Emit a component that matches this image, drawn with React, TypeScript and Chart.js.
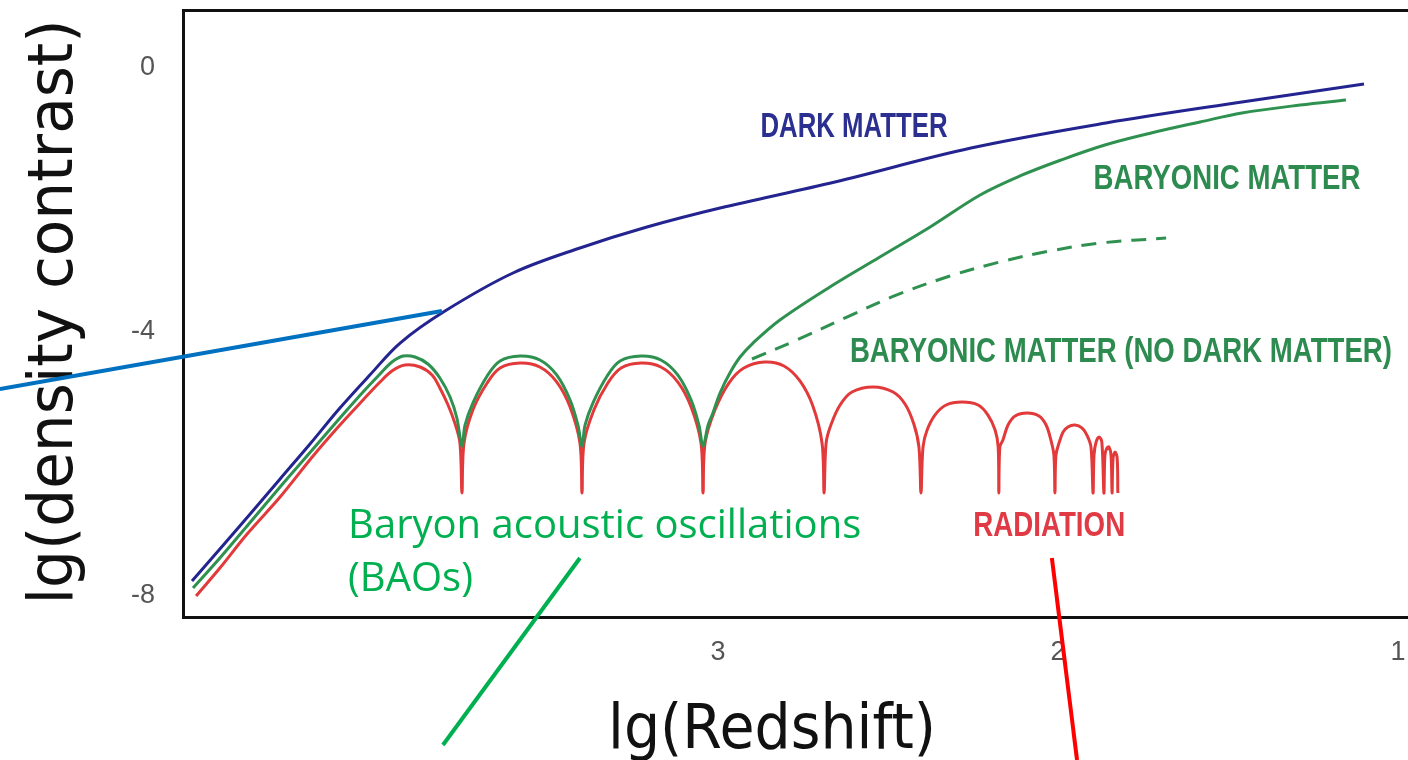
import React, { useEffect, useRef } from "react";
import { Chart, registerables } from "chart.js";

Chart.register(...registerables);

// ---- axis ticks ----
const xTickValues = [1, 2, 3];
const yTickValues = [-8, -4, 0];

// ---- DARK MATTER (lg redshift, lg density contrast) ----
const darkMatterX = [4.547, 4.465, 4.376, 4.288, 4.2, 4.112, 4.024, 3.935, 3.803, 3.603, 3.406, 3.209, 2.994, 2.656, 2.256, 1.859, 1.459, 1.1];
const darkMatterY = [-7.773, -7.288, -6.758, -6.227, -5.697, -5.152, -4.652, -4.167, -3.682, -3.106, -2.727, -2.409, -2.121, -1.727, -1.212, -0.833, -0.515, -0.242];

// ---- BARYONIC MATTER ----
const baryonX = [4.544, 4.465, 4.385, 4.288, 4.191, 4.112, 4.044, 3.994, 3.959, 3.926, 3.891, 3.853, 3.818, 3.788, 3.768, 3.753,
  3.744, 3.721, 3.679, 3.641, 3.582, 3.524, 3.474, 3.435, 3.412, 3.4,
  3.391, 3.368, 3.326, 3.288, 3.226, 3.168, 3.118, 3.079, 3.056, 3.044,
  3.029, 3.015, 2.994, 2.965, 2.935, 2.897, 2.818, 2.671, 2.524, 2.376, 2.229, 2.112, 1.991, 1.862, 1.726, 1.582, 1.459, 1.288, 1.153];
const baryonY = [-7.879, -7.424, -6.939, -6.348, -5.773, -5.303, -4.909, -4.636, -4.455, -4.364, -4.379, -4.485, -4.697, -4.985, -5.303, -5.727,
  -5.409, -5.076, -4.667, -4.439, -4.364, -4.424, -4.652, -5.03, -5.409, -5.727,
  -5.409, -5.076, -4.667, -4.439, -4.364, -4.424, -4.652, -5.03, -5.409, -5.727,
  -5.409, -5.227, -4.924, -4.621, -4.379, -4.167, -3.818, -3.318, -2.864, -2.409, -1.924, -1.636, -1.394, -1.167, -0.985, -0.818, -0.682, -0.561, -0.485];

// ---- BARYONIC MATTER (NO DARK MATTER) ----
const baryonNoDmX = [2.9, 2.768, 2.621, 2.474, 2.318, 2.171, 2.024, 1.876, 1.682];
const baryonNoDmY = [-4.409, -4.121, -3.773, -3.439, -3.152, -2.939, -2.773, -2.652, -2.576];

// ---- RADIATION ----
const radiationX = [4.535, 4.465, 4.385, 4.288, 4.191, 4.112, 4.044, 3.994, 3.959, 3.921, 3.876, 3.841, 3.818, 3.794, 3.774, 3.759, 3.753, 3.747,
  3.721, 3.679, 3.641, 3.582, 3.524, 3.474, 3.435, 3.406, 3.4, 3.394,
  3.365, 3.324, 3.285, 3.226, 3.168, 3.118, 3.079, 3.05, 3.044, 3.038,
  3.009, 2.968, 2.924, 2.862, 2.806, 2.759, 2.721, 2.694, 2.688, 2.682,
  2.668, 2.641, 2.606, 2.544, 2.485, 2.45, 2.424, 2.409, 2.403, 2.397,
  2.385, 2.362, 2.329, 2.282, 2.235, 2.206, 2.185, 2.176, 2.174, 2.171,
  2.162, 2.147, 2.126, 2.091, 2.056, 2.035, 2.021, 2.012, 2.009, 2.006,
  1.997, 1.985, 1.971, 1.95, 1.929, 1.915, 1.903, 1.897, 1.894,
  1.888, 1.879, 1.871, 1.865, 1.862, 1.856, 1.85, 1.844, 1.841, 1.838, 1.832, 1.826, 1.824];
const radiationY = [-8.0, -7.576, -7.061, -6.5, -5.879, -5.409, -5.03, -4.758, -4.591, -4.5, -4.53, -4.652, -4.848, -5.106, -5.379, -5.682, -6.439, -5.682,
  -5.182, -4.773, -4.545, -4.47, -4.53, -4.758, -5.136, -5.682, -6.439, -5.682,
  -5.182, -4.773, -4.545, -4.47, -4.53, -4.758, -5.136, -5.682, -6.439, -5.682,
  -5.182, -4.773, -4.545, -4.455, -4.515, -4.742, -5.121, -5.682, -6.439, -5.682,
  -5.409, -5.106, -4.909, -4.833, -4.909, -5.091, -5.394, -5.742, -6.439, -5.742,
  -5.485, -5.258, -5.106, -5.061, -5.106, -5.258, -5.485, -5.742, -6.439, -5.742,
  -5.636, -5.409, -5.273, -5.227, -5.273, -5.409, -5.636, -5.864, -6.439, -5.864,
  -5.682, -5.515, -5.439, -5.409, -5.455, -5.561, -5.742, -6.439, -5.864,
  -5.667, -5.591, -5.667, -6.439, -5.864, -5.758, -5.742, -5.864, -6.439, -5.909, -5.818, -5.909, -6.439];

// ---- text ----
const curveLabels = ["DARK MATTER", "BARYONIC MATTER", "BARYONIC MATTER (NO DARK MATTER)", "RADIATION"];
const baoLines = ["Baryon acoustic oscillations", "(BAOs)"];
const xTitle = "lg(Redshift)";
const yTitle = "lg(density contrast)";

// ---- placement / style (data units) ----
const X_MIN = 0.9706;
const X_MAX = 4.5735;
const Y_MIN = -8.318;
const Y_MAX = 0.8788;

const labelStyles = [
  { x: 2.6, y: -0.894, w: 187, color: "#2b2f8f" },
  { x: 1.503, y: -1.682, w: 267, color: "#2e8b50" },
  { x: 1.815, y: -4.303, w: 542, color: "#2e8b50" },
  { x: 2.026, y: -6.939, w: 152, color: "#e03a44" },
];
const baoStyle = { x: 4.088, y1: -7.121, y2: -7.924, color: "#00b050" };
const pointerLines = [
  { x0: 5.112, y0: -4.864, x1: 3.812, y1: -3.682, color: "#0070c0" },
  { x0: 3.406, y0: -7.424, x1: 3.809, y1: -10.258, color: "#00b050" },
  { x0: 2.018, y0: -7.424, x1: 1.944, y1: -10.485, color: "#ff0000" },
];
const xTitlePos = { x: 2.841, y: -10.303 };
const yTitlePos = { x: 4.9, y: -3.697 };

const zip = (xs: number[], ys: number[]) => xs.map((x, i) => ({ x, y: ys[i] }));

const overlayPlugin = {
  id: "overlay",
  afterDraw(chart: any) {
    const { ctx } = chart;
    const sx = chart.scales.x;
    const sy = chart.scales.y;
    const X = (v: number) => sx.getPixelForValue(v);
    const Y = (v: number) => sy.getPixelForValue(v);
    ctx.save();

    // curve labels
    ctx.textAlign = "center";
    ctx.textBaseline = "middle";
    ctx.font = 'bold 35px "Liberation Sans"';
    curveLabels.forEach((t, i) => {
      const s = labelStyles[i];
      ctx.fillStyle = s.color;
      ctx.fillText(t, X(s.x), Y(s.y), s.w);
    });

    // BAO annotation text
    ctx.textAlign = "left";
    ctx.textBaseline = "alphabetic";
    ctx.font = '40px "Open Sans"';
    ctx.fillStyle = baoStyle.color;
    ctx.fillText(baoLines[0], X(baoStyle.x), Y(baoStyle.y1));
    ctx.fillText(baoLines[1], X(baoStyle.x), Y(baoStyle.y2));

    // axis titles
    ctx.fillStyle = "#111";
    ctx.textAlign = "center";
    ctx.font = '62px "DejaVu Sans"';
    ctx.fillText(xTitle, X(xTitlePos.x), Y(xTitlePos.y), 328);
    ctx.save();
    ctx.translate(X(yTitlePos.x), Y(yTitlePos.y));
    ctx.rotate(-Math.PI / 2);
    ctx.fillText(yTitle, 0, 0, 585);
    ctx.restore();

    // pointer lines
    ctx.lineWidth = 4;
    ctx.lineCap = "butt";
    pointerLines.forEach((p) => {
      ctx.strokeStyle = p.color;
      ctx.beginPath();
      ctx.moveTo(X(p.x0), Y(p.y0));
      ctx.lineTo(X(p.x1), Y(p.y1));
      ctx.stroke();
    });
    ctx.restore();
  },
};

export default function App() {
  const ref = useRef<HTMLCanvasElement | null>(null);
  useEffect(() => {
    if (!ref.current) return;
    const common = { pointRadius: 0, borderWidth: 3, tension: 0.35, fill: false };
    const chart = new Chart(ref.current, {
      type: "line",
      data: {
        datasets: [
          { ...common, label: curveLabels[0], data: zip(darkMatterX, darkMatterY), borderColor: "#23248f" },
          { ...common, label: curveLabels[1], data: zip(baryonX, baryonY), borderColor: "#2f9150" },
          { ...common, label: curveLabels[2], data: zip(baryonNoDmX, baryonNoDmY), borderColor: "#2f9150", borderDash: [15, 10] },
          { ...common, label: curveLabels[3], data: zip(radiationX, radiationY), borderColor: "#e23a3a" },
        ],
      },
      options: {
        animation: false,
        responsive: false,
        layout: { padding: 0, autoPadding: false },
        plugins: { legend: { display: false }, tooltip: { enabled: false } },
        scales: {
          x: {
            type: "linear",
            position: "bottom",
            reverse: true,
            min: X_MIN,
            max: X_MAX,
            afterBuildTicks: (s: any) => { s.ticks = xTickValues.map((v) => ({ value: v })); },
            afterFit: (s: any) => { s.height = 143; s.paddingLeft = 0; s.paddingRight = 0; },
            grid: { display: false, drawTicks: false },
            border: { display: true, color: "#111", width: 3 },
            ticks: { color: "#555", padding: 19, font: { family: "Liberation Sans", size: 27 }, callback: (v: any) => String(v) },
          },
          xTop: {
            type: "linear",
            position: "top",
            min: 0,
            max: 1,
            afterFit: (s: any) => { s.height = 10; s.paddingLeft = 0; s.paddingRight = 0; },
            grid: { display: false, drawTicks: false },
            border: { display: true, color: "#111", width: 3 },
            ticks: { display: false },
          },
          y: {
            type: "linear",
            position: "left",
            min: Y_MIN,
            max: Y_MAX,
            afterBuildTicks: (s: any) => { s.ticks = yTickValues.map((v) => ({ value: v })); },
            afterFit: (s: any) => { s.width = 183; s.paddingTop = 0; s.paddingBottom = 0; },
            grid: { display: false, drawTicks: false },
            border: { display: true, color: "#111", width: 3 },
            ticks: { color: "#555", padding: 28, font: { family: "Liberation Sans", size: 27 }, callback: (v: any) => String(v) },
          },
        },
      },
      plugins: [overlayPlugin],
    } as any);
    return () => chart.destroy();
  }, []);
  return (
    <div style={{ position: "fixed", left: 0, top: 0, width: 1408, height: 760, background: "#fff" }}>
      <canvas ref={ref} width={1408} height={760} style={{ display: "block", width: 1408, height: 760 }} />
    </div>
  );
}
